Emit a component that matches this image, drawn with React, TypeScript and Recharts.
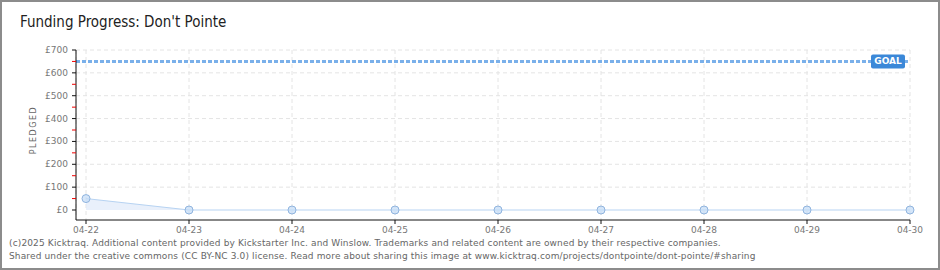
import {
  ComposedChart,
  Area,
  XAxis,
  YAxis,
  CartesianGrid,
  ReferenceLine,
} from 'recharts'

const dates = ['04-22', '04-23', '04-24', '04-25', '04-26', '04-27', '04-28', '04-29', '04-30']
const pledged = [50, 0, 0, 0, 0, 0, 0, 0, 0]
const goal = 650
const yTicks = [0, 50, 100, 150, 200, 250, 300, 350, 400, 450, 500, 550, 600, 650, 700]
const gridValues = [100, 200, 300, 400, 500, 600, 700]

const data = dates.map((d, i) => ({ date: d, pledged: pledged[i] }))

const axisFont = '"DejaVu Sans", sans-serif'

function YTick(props: { x?: number; y?: number; payload?: { value: number } }) {
  const { x = 0, y = 0, payload } = props
  const v = payload?.value ?? 0
  const major = v % 100 === 0
  // x is label anchor; the axis line sits 8px to the right
  return (
    <g>
      <line x1={x + 4} x2={x + 8} y1={y} y2={y} stroke={major ? '#111' : '#e00'} strokeWidth={1} />
      {major && (
        <text x={x} y={y} dy={3} textAnchor="end" fontSize={9} fill="#777" fontFamily={axisFont}>
          £{v}
        </text>
      )}
    </g>
  )
}

function GoalLabel(props: { viewBox?: { x: number; y: number; width: number } }) {
  const vb = props.viewBox
  if (!vb) return null
  const right = vb.x + vb.width - 5
  return (
    <g>
      <rect x={right - 34} y={vb.y - 7} width={34} height={14} rx={2} fill="#3b88d8" />
      <text
        x={right - 17}
        y={vb.y + 3}
        textAnchor="middle"
        fontSize={9}
        fontWeight="bold"
        fill="#fff"
        fontFamily={axisFont}
      >
        GOAL
      </text>
    </g>
  )
}

export default function App() {
  return (
    <div
      style={{
        position: 'absolute',
        left: 0,
        top: 0,
        width: 940,
        height: 270,
        boxSizing: 'border-box',
        border: '2px solid #8c8c8c',
        background: '#fff',
        overflow: 'hidden',
      }}
    >
      <div
        style={{
          position: 'absolute',
          left: 18,
          top: 11,
          fontFamily: '"DejaVu Sans Condensed", "DejaVu Sans", sans-serif',
          fontSize: 15,
          color: '#222',
          fontWeight: 300,
        }}
      >
        Funding Progress: Don't Pointe
      </div>
      <div
        style={{
          position: 'absolute',
          left: 31,
          top: 128,
          transform: 'translate(-50%, -50%) rotate(-90deg)',
          fontFamily: axisFont,
          fontSize: 8,
          letterSpacing: 1.5,
          color: '#666',
        }}
      >
        PLEDGED
      </div>
      <div style={{ position: 'absolute', left: -2, top: -2 }}>
        <ComposedChart width={940} height={270} data={data} margin={{ top: 50, right: 30, bottom: 0, left: 0 }}>
          <CartesianGrid horizontal={false} stroke="#e4e4e4" strokeDasharray="4 3" />
          {gridValues.map((v) => (
            <ReferenceLine key={v} y={v} stroke="#e4e4e4" strokeDasharray="4 3" />
          ))}
          <XAxis
            dataKey="date"
            scale="point"
            padding={{ left: 10, right: 0 }}
            height={50}
            tickSize={4}
            tickMargin={3}
            axisLine={{ stroke: '#111' }}
            tickLine={{ stroke: '#111' }}
            tick={{ fontSize: 9, fill: '#777', fontFamily: axisFont }}
            interval={0}
          />
          <YAxis
            type="number"
            domain={[0, 700]}
            ticks={yTicks}
            interval={0}
            width={76}
            padding={{ top: 0, bottom: 10 }}
            tickSize={4}
            tickMargin={4}
            tickLine={false}
            axisLine={{ stroke: '#111' }}
            tick={<YTick />}
          />
          <ReferenceLine
            y={goal}
            stroke="#7ab0ea"
            strokeWidth={3}
            strokeDasharray="4 2"
            label={<GoalLabel />}
          />
          <Area
            type="linear"
            dataKey="pledged"
            stroke="#b7d3f2"
            strokeWidth={1}
            fill="#dfeafa"
            fillOpacity={0.7}
            dot={{ r: 4, fill: '#c3dcf6', stroke: '#90b4de', strokeWidth: 1 }}
            isAnimationActive={false}
          />
        </ComposedChart>
      </div>
      <div
        style={{
          position: 'absolute',
          left: 7,
          top: 235,
          fontFamily: axisFont,
          fontSize: 9,
          letterSpacing: 0.14,
          lineHeight: '13px',
          color: '#666',
          whiteSpace: 'nowrap',
        }}
      >
        (c)2025 Kicktraq. Additional content provided by Kickstarter Inc. and Winslow. Trademarks and related content are owned by their respective companies.
        <br />
        Shared under the creative commons (CC BY-NC 3.0) license. Read more about sharing this image at www.kicktraq.com/projects/dontpointe/dont-pointe/#sharing
      </div>
    </div>
  )
}
